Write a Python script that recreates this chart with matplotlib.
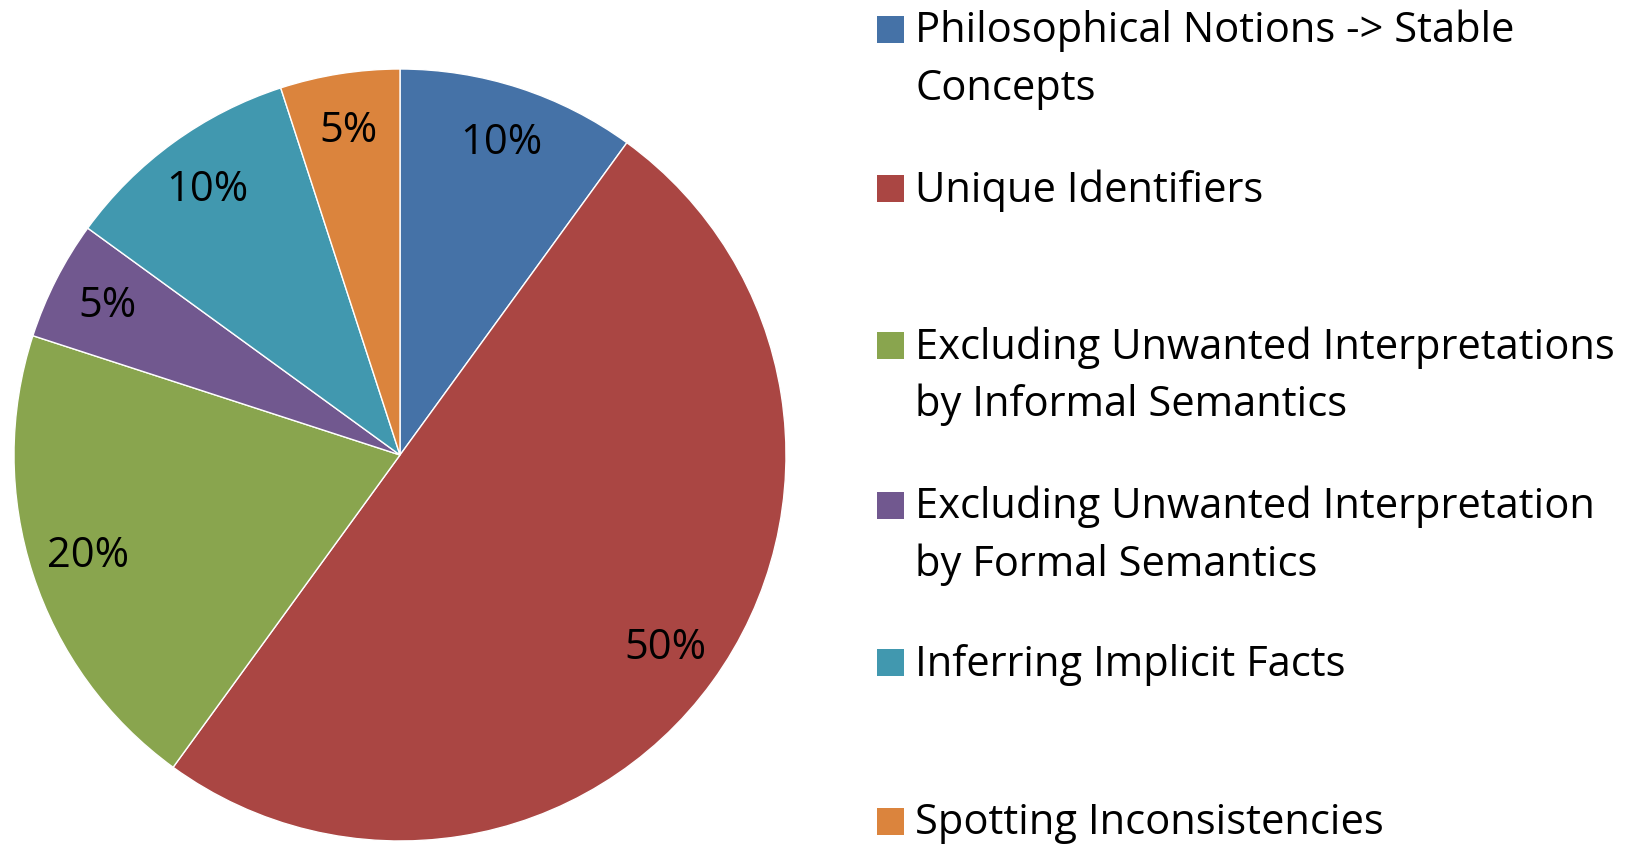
import matplotlib
matplotlib.use('Agg')
import matplotlib.pyplot as plt
from matplotlib.patches import Rectangle

# slice data, clockwise from 12 o'clock
shares = [10, 50, 20, 5, 10, 5]
labels = [
    ['Philosophical Notions -> Stable', 'Concepts'],
    ['Unique Identifiers'],
    ['Excluding Unwanted Interpretations', 'by Informal Semantics'],
    ['Excluding Unwanted Interpretation', 'by Formal Semantics'],
    ['Inferring Implicit Facts'],
    ['Spotting Inconsistencies'],
]
colors = ['#4572A7', '#AA4643', '#89A54E', '#71588F', '#4198AF', '#DB843D']

W, H = 1636, 844
FS = 30
plt.rcParams['font.family'] = ['Open Sans', 'DejaVu Sans']
fig = plt.figure(figsize=(W / 100, H / 100), dpi=100)

cx, cy, r = 400, 455, 386
ax = fig.add_axes([(cx - r) / W, (H - cy - r) / H, 2 * r / W, 2 * r / H])
ax.pie(shares, colors=colors, startangle=90, counterclock=False,
       autopct='%d%%', pctdistance=0.85,
       wedgeprops=dict(edgecolor='white', linewidth=1),
       textprops=dict(fontsize=FS, color='black'))
ax.set_xlim(-1, 1)
ax.set_ylim(-1, 1)
ax.set_aspect('equal')
ax.axis('off')

# legend drawn by hand so the marker sits on the first line
marker_y = [29, 188, 346, 505, 662, 821]
for lines, col, my in zip(labels, colors, marker_y):
    fig.add_artist(Rectangle((877 / W, 1 - (my + 13.5) / H), 27 / W, 27 / H,
                             transform=fig.transFigure, facecolor=col,
                             edgecolor='none'))
    for k, line in enumerate(lines):
        y = my + 13.5 + k * 57
        fig.text(915 / W, 1 - y / H, line, fontsize=FS, va='baseline',
                 ha='left')

fig.savefig('out.png', dpi=100)
